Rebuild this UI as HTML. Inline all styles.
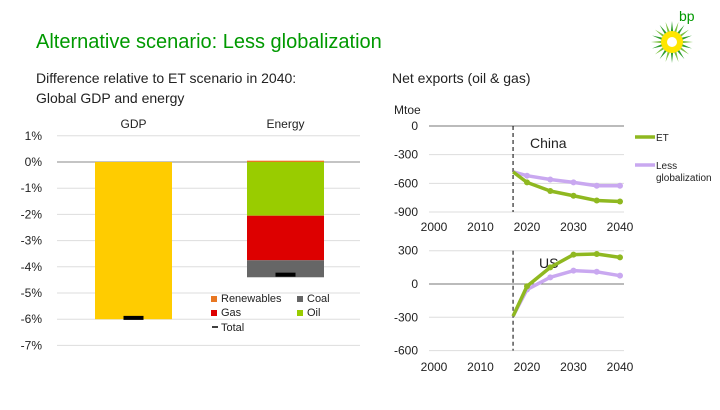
<!DOCTYPE html>
<html><head><meta charset="utf-8"><style>
body{margin:0;background:#fff;}
svg text{font-family:"Liberation Sans",sans-serif;}
</style></head><body>
<svg width="720" height="405" viewBox="0 0 720 405" xmlns="http://www.w3.org/2000/svg">
<text x="36" y="48" font-size="20" fill="#009900">Alternative scenario: Less globalization</text>
<text x="36" y="83" font-size="14" fill="#222">Difference relative to ET scenario in 2040:</text>
<text x="36" y="103" font-size="14" fill="#222">Global GDP and energy</text>
<text x="392" y="83" font-size="14" fill="#222">Net exports (oil &amp; gas)</text>
<g>
<text x="679" y="21" font-size="14" fill="#009900">bp</text>
<g id="logo"></g>
</g>
<g id="left"></g>
<g id="right"></g>
</svg>
<script>
// Left chart data
const barCats=['GDP','Energy'];
const gdpValues=[-6.0];
const energyRenewables=[0.05];
const energyOil=[-2.05];
const energyGas=[-1.7];
const energyCoal=[-0.65];
const totals=[-5.95,-4.3];
const leftTicks=[1,0,-1,-2,-3,-4,-5,-6,-7];
// Right chart data
const years=[2017,2020,2025,2030,2035,2040];
const chinaET=[-480,-590,-680,-730,-780,-790];
const chinaLG=[-480,-520,-560,-590,-625,-625];
const usET=[-290,-20,150,265,270,240];
const usLG=[-290,-50,60,120,110,75];
const yearTicks=[2000,2010,2020,2030,2040];
const chinaTicks=[0,-300,-600,-900];
const usTicks=[300,0,-300,-600];

const NS='http://www.w3.org/2000/svg';
function mk(p,t,a,txt){const e=document.createElementNS(NS,t);for(const k in a)e.setAttribute(k,a[k]);if(txt!==undefined)e.textContent=txt;p.appendChild(e);return e;}

// logo
const logo=document.getElementById('logo');
for(let i=0;i<20;i++){const a=i*Math.PI*2/20;const cx=672,cy=42;
 const p=mk(logo,'polygon',{points:`${cx+8*Math.cos(a-0.18)},${cy+8*Math.sin(a-0.18)} ${cx+21*Math.cos(a)},${cy+21*Math.sin(a)} ${cx+8*Math.cos(a+0.18)},${cy+8*Math.sin(a+0.18)}`,fill:i%2?'#2e9e2e':'#7cc242'});
 }
const c1=mk(logo,'circle',{cx:672,cy:42,r:11,fill:'#ffe600'});
const c2=mk(logo,'circle',{cx:672,cy:42,r:5,fill:'#fff'});

// left chart
const L=document.getElementById('left');
const ly=v=>162-v*26.2;
leftTicks.forEach(t=>{
 const l=mk(L,'line',{x1:57,x2:360,y1:ly(t),y2:ly(t),stroke:t===0?'#888':'#ddd','stroke-width':1});
 
 const tx=mk(L,'text',{x:42,y:ly(t)+4,'font-size':12,'text-anchor':'end',fill:'#222'},t+'%');
 
});
const barX=[95,247],bw=77;
barCats.forEach((c,i)=>{const t=mk(L,'text',{x:barX[i]+bw/2,y:128,'font-size':12,'text-anchor':'middle',fill:'#222'},c);
 });
function rect(x,v0,v1,fill,name){const r=mk(L,'rect',{x:x,y:Math.min(ly(v0),ly(v1)),width:bw,height:Math.abs(ly(v0)-ly(v1)),fill:fill});
 }
rect(barX[0],0,gdpValues[0],'#ffcc00','bar-gdp');
rect(barX[1],0,energyRenewables[0],'#e87722','bar-renewables');
rect(barX[1],0,energyOil[0],'#99cc00','bar-oil');
rect(barX[1],energyOil[0],energyOil[0]+energyGas[0],'#dd0000','bar-gas');
rect(barX[1],energyOil[0]+energyGas[0],energyOil[0]+energyGas[0]+energyCoal[0],'#666','bar-coal');
totals.forEach((v,i)=>{const r=mk(L,'rect',{x:barX[i]+bw/2-10,y:ly(v)-2,width:20,height:4,fill:'#000'});
 });
const leg=[['Renewables','#e87722',211,302],['Coal','#666',297,302],['Gas','#dd0000',211,316],['Oil','#99cc00',297,316]];
leg.forEach(g=>{const s=mk(L,'rect',{x:g[2],y:g[3]-6,width:6,height:6,fill:g[1]});
 const t=mk(L,'text',{x:g[2]+10,y:g[3],'font-size':11,fill:'#222'},g[0]);});
const tl=mk(L,'line',{x1:212,x2:218,y1:327,y2:327,stroke:'#000','stroke-width':1.5});
const tt=mk(L,'text',{x:221,y:331,'font-size':11,fill:'#222'},'Total');

// right chart
const R=document.getElementById('right');
const rx=y=>434+(y-2000)*4.65;
const cy=v=>126-v*86/900;
const uy=v=>284-v*33.3/300;
const u=mk(R,'text',{x:394,y:114,'font-size':12,fill:'#222'},'Mtoe');
function panel(ticks,yf,ty,lbl,lx,lyy,series,nm){
 ticks.forEach(t=>{const l=mk(R,'line',{x1:429,x2:624,y1:yf(t),y2:yf(t),stroke:t===0?'#777':'#ddd'});
  
  const tx=mk(R,'text',{x:418,y:yf(t)+4,'font-size':12,'text-anchor':'end',fill:'#222'},t);
  });
 yearTicks.forEach(y=>{const tx=mk(R,'text',{x:rx(y),y:ty,'font-size':12,'text-anchor':'middle',fill:'#222'},y);
  });
 const d=mk(R,'line',{x1:rx(2017),x2:rx(2017),y1:yf(ticks[0]),y2:yf(ticks[ticks.length-1]),stroke:'#000','stroke-dasharray':'4,3'});
 
 const t=mk(R,'text',{x:lx,y:lyy,'font-size':14,fill:'#222'},lbl);
 series.forEach(s=>{const pts=years.map((y,i)=>rx(y)+','+yf(s[0][i])).join(' ');
  const p=mk(R,'polyline',{points:pts,fill:'none',stroke:s[1],'stroke-width':3.5,'stroke-linejoin':'round'});
  
  years.forEach((y,i)=>{if(i===0)return;const c=mk(R,'circle',{cx:rx(y),cy:yf(s[0][i]),r:3,fill:s[1]});
   });});
}
panel(chinaTicks,cy,231,'China',530,148,[[chinaLG,'#c9a8f0','lg'],[chinaET,'#8fb820','et']],'china');
panel(usTicks,uy,371,'US',539,268,[[usLG,'#c9a8f0','lg'],[usET,'#8fb820','et']],'us');
const l1=mk(R,'line',{x1:635,x2:655,y1:137,y2:137,stroke:'#8fb820','stroke-width':3.5});
const t1=mk(R,'text',{x:656,y:141,'font-size':10,fill:'#222'},'ET');
const l2=mk(R,'line',{x1:635,x2:655,y1:165,y2:165,stroke:'#c9a8f0','stroke-width':3.5});
const t2=mk(R,'text',{x:656,y:169,'font-size':10,fill:'#222'},'Less');
const t3=mk(R,'text',{x:656,y:181,'font-size':10,fill:'#222'},'globalization');
</script>
</body></html>
